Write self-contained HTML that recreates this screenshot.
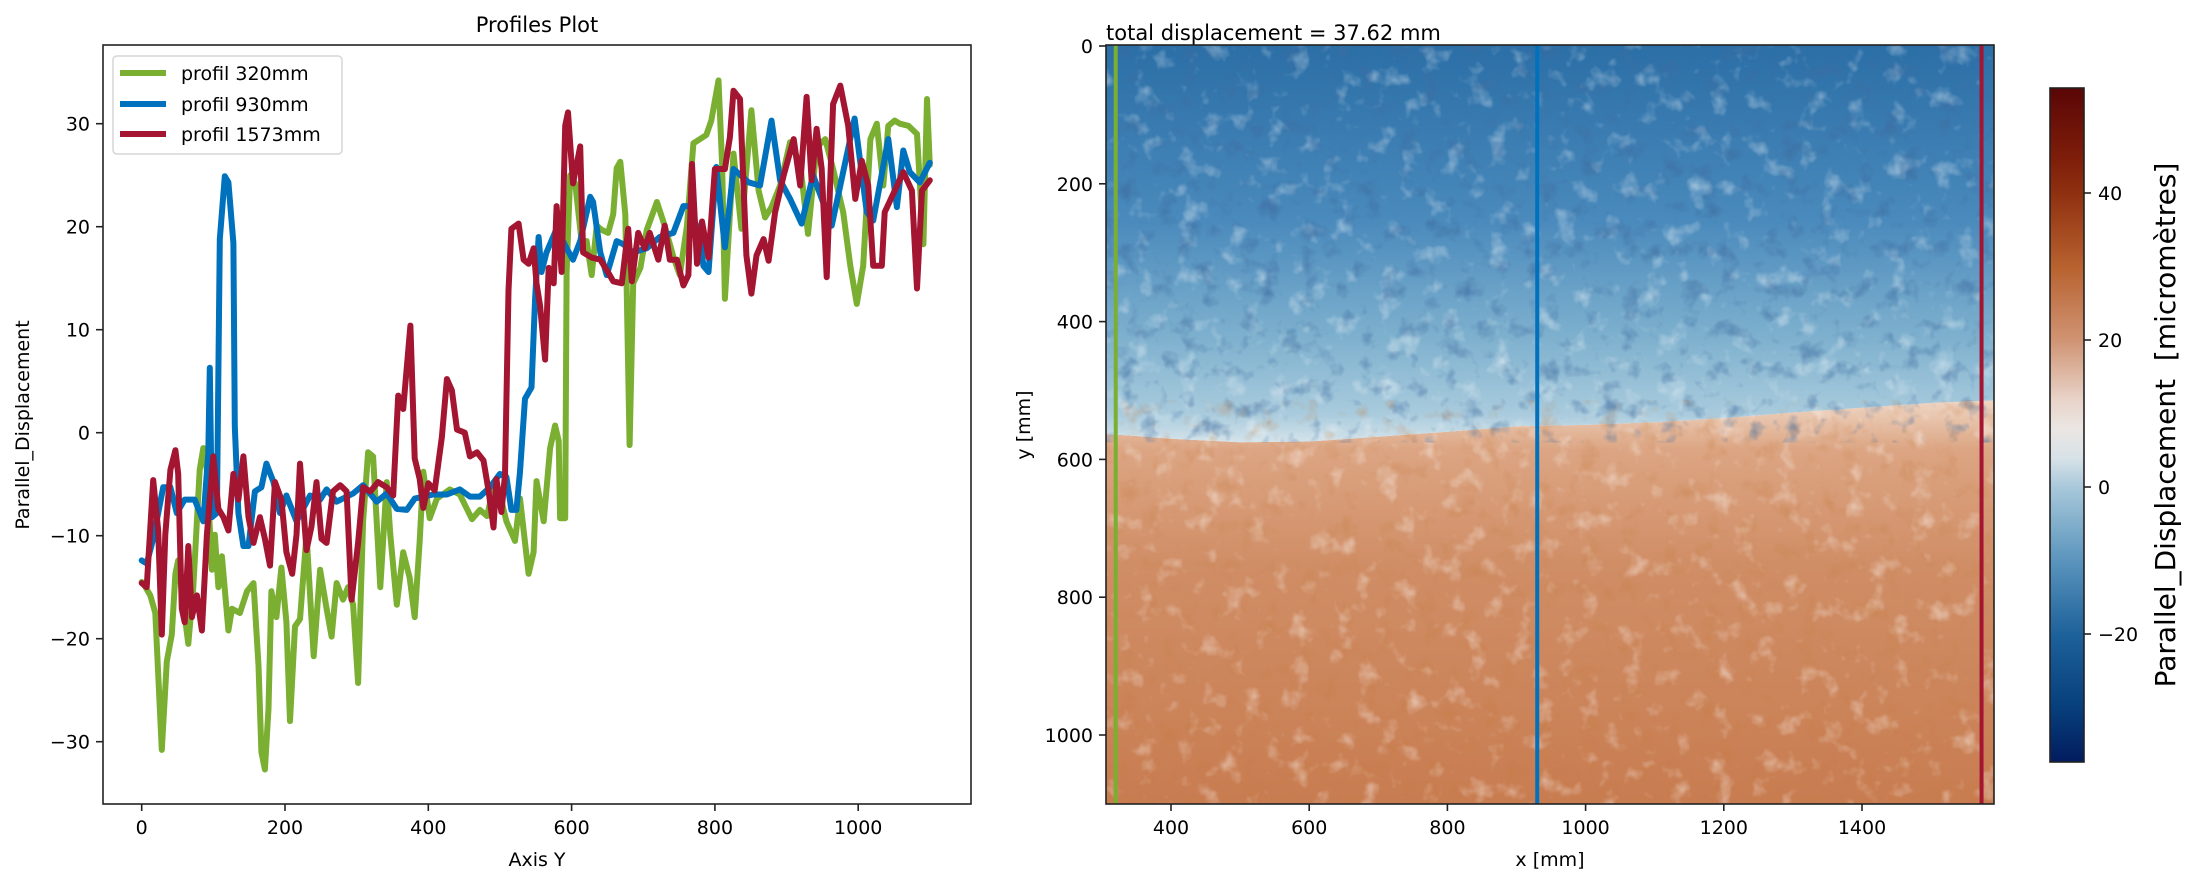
<!DOCTYPE html>
<html><head><meta charset="utf-8">
<style>
html,body{margin:0;padding:0;background:#fff;}
svg{display:block;font-family:"DejaVu Sans","Liberation Sans",sans-serif;}
</style></head>
<body>
<svg id="fig" width="2199" height="882" viewBox="0 0 2199 882" xmlns="http://www.w3.org/2000/svg">
<defs>
  <clipPath id="clipL"><rect x="103" y="45" width="868" height="759"/></clipPath>
  <clipPath id="clipR"><rect x="1106" y="45" width="888" height="759"/></clipPath>
  <linearGradient id="gBlue" x1="0" y1="0" x2="0" y2="1" gradientUnits="objectBoundingBox">
    <stop offset="0" stop-color="#2a6ea6"/>
    <stop offset="0.45" stop-color="#4a8abc"/>
    <stop offset="0.75" stop-color="#80b2cf"/>
    <stop offset="0.93" stop-color="#a9cbdd"/>
    <stop offset="1" stop-color="#d4e3ea"/>
  </linearGradient>
  <linearGradient id="gOrange" x1="0" y1="0" x2="0" y2="1" gradientUnits="objectBoundingBox">
    <stop offset="0" stop-color="#efd6c4"/>
    <stop offset="0.12" stop-color="#dca583"/>
    <stop offset="0.4" stop-color="#d08e66"/>
    <stop offset="1" stop-color="#c87c50"/>
  </linearGradient>
  <linearGradient id="gCbar" x1="0" y1="0" x2="0" y2="1">
    <stop offset="0" stop-color="#5a0606"/>
    <stop offset="0.102" stop-color="#7d1d0a"/>
    <stop offset="0.157" stop-color="#8f3010"/>
    <stop offset="0.266" stop-color="#b8622f"/>
    <stop offset="0.375" stop-color="#d09474"/>
    <stop offset="0.462" stop-color="#e8d3c8"/>
    <stop offset="0.505" stop-color="#ebe6e3"/>
    <stop offset="0.549" stop-color="#d8e2e8"/>
    <stop offset="0.593" stop-color="#a8c8da"/>
    <stop offset="0.702" stop-color="#5a94bd"/>
    <stop offset="0.810" stop-color="#1d629a"/>
    <stop offset="0.919" stop-color="#073f7c"/>
    <stop offset="1" stop-color="#021c5e"/>
  </linearGradient>
  <filter id="noiseLight" x="0" y="0" width="100%" height="100%">
    <feTurbulence type="fractalNoise" baseFrequency="0.045" numOctaves="3" seed="3" result="t"/>
    <feColorMatrix in="t" type="matrix" values="0 0 0 0 1  0 0 0 0 1  0 0 0 0 1  2.2 0 0 0 -1.25"/>
  </filter>
  <filter id="noiseDark" x="0" y="0" width="100%" height="100%">
    <feTurbulence type="fractalNoise" baseFrequency="0.05" numOctaves="3" seed="11" result="t"/>
    <feColorMatrix in="t" type="matrix" values="0 0 0 0 0.05  0 0 0 0 0.15  0 0 0 0 0.35  2.2 0 0 0 -1.2"/>
  </filter>
  <filter id="noiseDarkO" x="0" y="0" width="100%" height="100%">
    <feTurbulence type="fractalNoise" baseFrequency="0.05" numOctaves="3" seed="17" result="t"/>
    <feColorMatrix in="t" type="matrix" values="0 0 0 0 0.55  0 0 0 0 0.2  0 0 0 0 0.05  2.0 0 0 0 -1.1"/>
  </filter>
</defs>

<rect width="2199" height="882" fill="#fff"/>

<!-- LEFT PLOT -->
<text x="537" y="32" font-size="21" text-anchor="middle">Profiles Plot</text>
<g id="leftLines" clip-path="url(#clipL)"></g>
<rect x="103" y="45" width="868" height="759" fill="none" stroke="#222" stroke-width="1.6"/>
<g id="leftXTicks"></g>
<g id="leftYTicks"></g>
<text x="537" y="866" font-size="19" text-anchor="middle">Axis Y</text>
<text transform="translate(29,425) rotate(-90)" font-size="19" text-anchor="middle">Parallel_Displacement</text>

<g>
  <rect x="113" y="56" width="229" height="98" rx="4" fill="#fff" fill-opacity="0.8" stroke="#d6d6d6" stroke-width="1.5"/>
  <g>
    <line x1="120" y1="73" x2="166" y2="73" stroke="#7aaf32" stroke-width="6"/>
    <text x="181" y="80" font-size="19">profil 320mm</text>
  </g>
  <g>
    <line x1="120" y1="104" x2="166" y2="104" stroke="#0071bc" stroke-width="6"/>
    <text x="181" y="111" font-size="19">profil 930mm</text>
  </g>
  <g>
    <line x1="120" y1="134" x2="166" y2="134" stroke="#a31530" stroke-width="6"/>
    <text x="181" y="141" font-size="19">profil 1573mm</text>
  </g>
</g>

<!-- RIGHT PLOT -->
<text x="1106" y="40" font-size="21">total displacement = 37.62 mm</text>
<g clip-path="url(#clipR)">
  <path id="orangeRegion" fill="url(#gOrange)"/>
  <path id="blueRegion" fill="url(#gBlue)"/>
  <rect x="1106" y="45" width="888" height="759" filter="url(#noiseLight)" opacity="0.55"/>
  <path id="blueTex" filter="url(#noiseDark)" opacity="0.75"/>
  <path id="orangeTex" filter="url(#noiseDarkO)" opacity="0.45"/>
  <g id="profileMarkers"></g>
</g>
<rect x="1106" y="45" width="888" height="759" fill="none" stroke="#222" stroke-width="1.6"/>
<g id="rightXTicks"></g>
<g id="rightYTicks"></g>
<text x="1550" y="866" font-size="19" text-anchor="middle">x [mm]</text>
<text transform="translate(1030,425) rotate(-90)" font-size="19" text-anchor="middle">y [mm]</text>

<!-- COLORBAR -->
<rect x="2050" y="88" width="34" height="674" fill="url(#gCbar)" stroke="#222" stroke-width="1.6"/>
<g id="cbarTicks"></g>
<text transform="translate(2175,425) rotate(-90)" font-size="28" text-anchor="middle" xml:space="preserve">Parallel_Displacement  [micromètres]</text>

<script>
// ---- data ----
const greenX = [0,2,12,19,28,35,42,47,51,58,65,72,81,86,91,98,102,107,112,121,126,137,147,156,163,167,172,177,181,188,195,202,207,214,221,230,240,249,258,265,272,281,288,295,302,309,316,323,333,342,347,356,365,374,381,388,393,402,412,430,444,461,472,482,491,500,509,521,528,540,547,551,561,570,577,582,584,591,593,598,605,614,621,628,635,642,651,658,663,668,675,681,686,696,705,719,730,742,751,761,770,779,788,795,805,810,814,826,837,851,861,870,879,891,905,919,930,942,954,965,979,989,998,1007,1017,1026,1035,1042,1051,1058,1070,1082,1091,1096,1100];
const greenV = [-14.5,-14.6,-15.8,-17.5,-30.8,-22.2,-19.6,-13.7,-12.4,-16.7,-20.5,-15,-3.6,-1.5,-3.6,-13.3,-9.9,-15,-12,-19.2,-17.1,-17.5,-15.4,-14.6,-22.6,-31,-32.7,-26.8,-15.4,-17.9,-13.1,-18.4,-28,-18.8,-18.1,-9.9,-21.7,-13.3,-17.1,-19.8,-14.6,-16.2,-15,-16.7,-24.3,-8.6,-1.9,-2.3,-15,-4.8,-9.9,-16.7,-11.6,-14.1,-17.9,-10.5,-3.8,-8.3,-6.4,-5.5,-6.0,-8.4,-7.5,-8.1,-5.3,-6.0,-8.6,-10.5,-6.4,-13.7,-11.6,-4.7,-8.6,-1.5,0.7,-0.8,-8.3,-8.3,15.6,25,24.2,18.6,18.6,15.3,20.1,19.7,19.4,21.2,25.7,26.3,21.2,-1.2,14.5,16,19.7,22.4,20.1,17.1,15.3,20.1,28.1,28.5,28.9,30.3,34.2,26.1,13,27.1,19.8,31.3,23.5,20.9,21.9,24,28.2,26.1,19.3,27.7,28.5,25.6,21.4,16.2,12.5,16.2,28.5,30,24,29.8,30.3,30,29.8,29,18.3,32.4,26];
const blueX = [0,7,16,30,40,49,60,74,86,93,95,98,105,109,116,121,128,130,135,142,149,158,167,174,184,193,202,216,235,249,258,272,295,309,328,342,356,370,381,407,426,444,458,472,486,500,509,516,523,528,535,544,549,554,558,565,579,593,602,612,626,630,640,649,663,672,686,705,723,742,756,765,779,784,791,802,814,826,847,863,879,891,905,921,937,963,995,1012,1021,1042,1054,1063,1072,1086,1100];
const blueV = [-12.4,-12.7,-10.3,-5.3,-5.3,-7.8,-6.5,-6.5,-8.6,-2,6.3,-8.2,-7.8,18.8,24.9,24.3,18.4,0.6,-7.8,-11,-11,-5.7,-5.3,-3,-4.8,-7.8,-6.1,-8.6,-6.1,-6.5,-5.5,-6.7,-5.9,-5.1,-6.7,-5.9,-7.4,-7.5,-6.4,-6.0,-6.0,-5.5,-6.2,-6.2,-5.3,-4.0,-4.3,-7.5,-7.5,-3.8,3.3,4.4,13,19,15.6,17.5,19.8,17.9,16.8,18.6,22.9,22.4,17.5,15.3,18.6,18.3,17.5,17.9,19,19.4,22,22,19,16.2,15.6,25.8,18,25.6,24.3,24,30.3,24.5,22.7,20.3,25,20.1,30.5,21.4,20.6,28.5,21.9,27.4,25.3,24.3,26.2];
const redX = [0,7,16,23,28,33,40,47,51,56,60,65,70,77,84,91,100,107,114,121,128,135,142,149,156,165,172,179,186,195,202,210,216,221,230,237,244,251,258,267,277,286,293,302,309,319,330,342,351,358,365,375,381,388,393,400,409,419,426,433,440,451,458,468,477,484,491,495,502,507,512,516,526,533,540,547,551,556,563,568,575,579,586,591,595,602,612,616,628,640,649,658,670,679,684,693,702,709,721,730,737,747,756,763,768,775,782,791,800,814,821,826,835,844,851,858,868,875,884,896,910,919,928,935,942,949,956,965,975,986,996,1005,1014,1021,1033,1037,1049,1063,1075,1082,1089,1100];
const redV = [-14.6,-15,-4.6,-9.5,-19.6,-9.9,-3.6,-1.7,-4,-17.1,-18.4,-11,-17.9,-15.8,-19.2,-9.9,-2.3,-7.4,-8.2,-9.5,-4,-6.5,-2.3,-8.2,-10.7,-8.2,-10.3,-12.9,-4.8,-6.5,-11.6,-13.7,-9.9,-3,-11.4,-9.1,-4.8,-10.3,-10.7,-5.7,-5.1,-5.7,-16.2,-10.7,-5.3,-5.7,-4.8,-5.3,-6.1,3.6,2.3,10.4,-2.5,-4.5,-7.3,-4.9,-5.6,-0.4,5.2,4.1,0.3,0,-2.3,-1.9,-2.7,-5.6,-9.2,-4.5,-7.7,-4.1,13.8,19.8,20.3,16.8,16.4,17.9,14.5,12.3,7.1,16,14.5,22,15.6,29.8,31.1,24.2,27.8,17.5,17,16.8,15.8,14.7,14.5,19.8,14.7,19.4,17.9,19.4,16.8,20.1,16.8,16.8,14.3,15.3,26.1,16.4,20.5,17,25.6,25.6,28.7,33.2,32.4,17.2,13.5,17.2,18.8,16.7,21.4,25,28.5,24,32.6,24.5,29.5,25.6,15.1,31.9,33.7,29.8,22.7,26.4,24,16.2,16.2,21.4,23.2,25.3,23.5,14,23.5,24.5];
const leftXTickVals = [0,200,400,600,800,1000];
const leftYTickVals = [-30,-20,-10,0,10,20,30];
const profilePositions = [320,930,1573];
const profileColors = ["#7aaf32","#0071bc","#a31530"];
const boundaryX = [290,350,400,500,600,700,800,900,1000,1100,1200,1300,1400,1500,1600];
const boundaryY = [562,566,570,575,574,567,560,552,550,546,540,532,525,518,514];
const rightXTickVals = [400,600,800,1000,1200,1400];
const rightYTickVals = [0,200,400,600,800,1000];
const cbarTickVals = [-20,0,20,40];

// ---- scales ----
const lx = v => 141.7 + 0.7165*v;
const ly = v => 432.7 - 10.3*v;
const rx = mm => 1171 + (mm-400)*0.691;
const ry = mm => 46 + mm*0.689;
const cy = v => 487 - (v)*7.35;
const NS = "http://www.w3.org/2000/svg";
function mk(tag, attrs, parent){ const e=document.createElementNS(NS,tag); for(const k in attrs) e.setAttribute(k,attrs[k]); parent.appendChild(e); return e; }

// profile lines
const lines = document.getElementById('leftLines');
[[greenX,greenV,"#7aaf32","profile-line-320"],[blueX,blueV,"#0071bc","profile-line-930"],[redX,redV,"#a31530","profile-line-1573"]].forEach(s=>{
  const d = s[0].map((x,i)=>(i?"L":"M")+lx(x).toFixed(1)+","+ly(s[1][i]).toFixed(1)).join(" ");
  const p = mk('path',{d:d,fill:"none",stroke:s[2],"stroke-width":6,"stroke-linejoin":"round","stroke-linecap":"round"},lines);
  
  
});

// left ticks
const lxt = document.getElementById('leftXTicks');
leftXTickVals.forEach(v=>{
  const t = mk('line',{x1:lx(v),x2:lx(v),y1:804,y2:811,stroke:"#222","stroke-width":1.6},lxt);
  
  
  const l = mk('text',{x:lx(v),y:834,"font-size":19,"text-anchor":"middle"},lxt);
  l.textContent = String(v);
  
  
});
const lyt = document.getElementById('leftYTicks');
leftYTickVals.forEach(v=>{
  const t = mk('line',{x1:96,x2:103,y1:ly(v),y2:ly(v),stroke:"#222","stroke-width":1.6},lyt);
  
  
  const l = mk('text',{x:90,y:ly(v)+7,"font-size":19,"text-anchor":"end"},lyt);
  l.textContent = (v<0?"\u2212":"")+Math.abs(v);
  
  
});

// heatmap regions
const bPts = boundaryX.map((x,i)=>rx(x).toFixed(1)+","+ry(boundaryY[i]).toFixed(1));
const blueD = "M1100,40 L2000,40 L2000,"+ry(boundaryY[boundaryY.length-1]).toFixed(1)+" L"+bPts.slice().reverse().join(" L")+" L1100,"+ry(boundaryY[0]).toFixed(1)+" Z";
const orangeD = "M1100,810 L2000,810 L2000,"+ry(boundaryY[boundaryY.length-1]).toFixed(1)+" L"+bPts.slice().reverse().join(" L")+" L1100,"+ry(boundaryY[0]).toFixed(1)+" Z";
document.getElementById('blueRegion').setAttribute('d', blueD);
document.getElementById('blueTex').setAttribute('d', blueD);
document.getElementById('orangeRegion').setAttribute('d', orangeD);
document.getElementById('orangeTex').setAttribute('d', orangeD);

// profile marker lines
const pm = document.getElementById('profileMarkers');
profilePositions.forEach((p,i)=>{
  const l = mk('line',{x1:rx(p),x2:rx(p),y1:45,y2:804,stroke:profileColors[i],"stroke-width":4},pm);
  
  
});

// right ticks
const rxt = document.getElementById('rightXTicks');
rightXTickVals.forEach(v=>{
  const t = mk('line',{x1:rx(v),x2:rx(v),y1:804,y2:811,stroke:"#222","stroke-width":1.6},rxt);
  
  
  const l = mk('text',{x:rx(v),y:834,"font-size":19,"text-anchor":"middle"},rxt);
  l.textContent = String(v);
  
  
});
const ryt = document.getElementById('rightYTicks');
rightYTickVals.forEach(v=>{
  const t = mk('line',{x1:1099,x2:1106,y1:ry(v),y2:ry(v),stroke:"#222","stroke-width":1.6},ryt);
  
  
  const l = mk('text',{x:1093,y:ry(v)+7,"font-size":19,"text-anchor":"end"},ryt);
  l.textContent = String(v);
  
  
});

// colorbar ticks
const cbt = document.getElementById('cbarTicks');
cbarTickVals.forEach(v=>{
  const t = mk('line',{x1:2084,x2:2091,y1:cy(v),y2:cy(v),stroke:"#222","stroke-width":1.6},cbt);
  
  
  const l = mk('text',{x:2098,y:cy(v)+7,"font-size":19},cbt);
  l.textContent = (v<0?"\u2212":"")+Math.abs(v);
  
  
});
</script>
</svg>
</body></html>
